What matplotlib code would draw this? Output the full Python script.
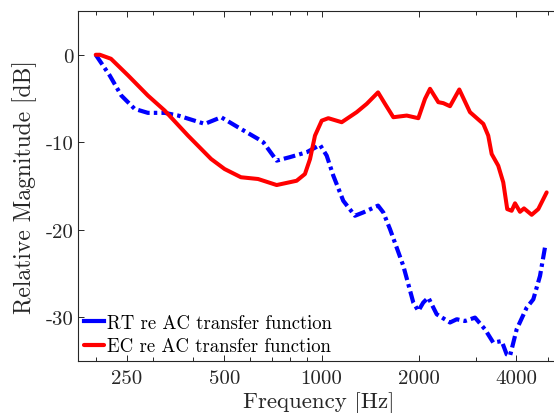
import matplotlib
matplotlib.use('Agg')
import matplotlib.pyplot as plt
from matplotlib.ticker import FixedLocator, NullFormatter

# values (Hz, dB)
rt_freq = [200, 221, 240, 264, 290, 327, 360, 435, 489, 551, 636, 660, 726, 798, 899,
           989, 1037, 1087, 1167, 1268, 1346, 1495, 1552, 1628, 1790, 1922, 1992, 2063,
           2139, 2271, 2496, 2619, 2778, 2983, 3203, 3398, 3608, 3738, 3827, 4014, 4311,
           4519, 4740, 4911]
rt_db = [0.0, -2.37, -4.66, -6.19, -6.64, -6.64, -6.95, -7.90, -7.14, -8.28, -9.62,
         -10.0, -12.1, -11.7, -11.14, -10.31, -11.53, -13.82, -16.69, -18.40, -18.02,
         -17.24, -18.02, -19.93, -24.13, -28.32, -29.28, -28.32, -27.75, -29.66, -30.6,
         -30.23, -30.43, -30.04, -31.38, -32.9, -32.72, -34.24, -34.43, -31.38, -28.9,
         -27.95, -25.28, -22.02]

ec_freq = [200, 206, 223, 252, 290, 327, 386, 455, 501, 563, 636, 726, 837, 888, 921,
           954, 1001, 1049, 1154, 1284, 1379, 1495, 1571, 1667, 1834, 1992, 2089, 2165,
           2297, 2380, 2496, 2667, 2878, 3165, 3278, 3359, 3520, 3648, 3753, 3873, 3967,
           4110, 4229, 4467, 4682, 4970]
ec_db = [0.0, 0.0, -0.46, -2.37, -4.66, -6.38, -9.24, -11.91, -13.06, -14.0, -14.2,
         -14.89, -14.4, -13.63, -11.91, -9.24, -7.53, -7.25, -7.71, -6.56, -5.61, -4.30,
         -5.61, -7.14, -6.95, -7.25, -5.04, -3.89, -5.42, -5.53, -5.88, -3.97, -6.56,
         -7.90, -9.24, -11.34, -12.68, -14.58, -17.64, -17.83, -16.98, -17.95, -17.56,
         -18.29, -17.64, -15.73]

x_major = [250, 500, 1000, 2000, 4000]
x_minor = [200, 300, 400, 600, 700, 800, 900, 3000, 5000]
y_ticks = [-30, -20, -10, 0]

plt.rcParams['font.family'] = 'serif'
plt.rcParams['font.serif'] = ['cmr10']
plt.rcParams['axes.unicode_minus'] = False
plt.rcParams['axes.formatter.use_mathtext'] = True
plt.rcParams['lines.scale_dashes'] = False

fig = plt.figure(figsize=(5.54, 4.14), dpi=100)
ax = fig.add_axes([0.1408, 0.1256, 0.870, 0.8454])

ax.plot(rt_freq, rt_db, color=(0, 0, 1), lw=3, dashes=(8.5, 3, 2.5, 3),
        dash_capstyle='butt', dash_joinstyle='round', label='RT re AC transfer function')
ax.plot(ec_freq, ec_db, color=(1, 0, 0), lw=2.9, solid_capstyle='round',
        solid_joinstyle='round', label='EC re AC transfer function')

ax.set_xscale('log')
ax.set_xlim(176.3, 5465)
ax.set_ylim(-35, 5)
ax.xaxis.set_major_locator(FixedLocator(x_major))
ax.xaxis.set_minor_locator(FixedLocator(x_minor))
ax.xaxis.set_minor_formatter(NullFormatter())
ax.set_xticklabels([str(v) for v in x_major])
ax.set_yticks(y_ticks)
ax.set_yticklabels([str(v) for v in y_ticks])

dark = (0.15, 0.15, 0.15)
for s in ['left', 'bottom', 'top']:
    ax.spines[s].set_color(dark)
    ax.spines[s].set_linewidth(0.8)
ax.spines['right'].set_visible(False)
ax.tick_params(which='both', direction='in', top=True, right=False, colors=dark,
               labelsize=15, width=0.7)
ax.tick_params(which='major', length=4)
ax.tick_params(which='minor', length=3)
ax.tick_params(axis='x', pad=6)

ax.set_xlabel('Frequency [Hz]', fontsize=16.5, color=dark, labelpad=3)
ax.set_ylabel('Relative Magnitude [dB]', fontsize=17, color=dark, labelpad=6)

leg = ax.legend(loc='lower left', frameon=False, fontsize=13.5, handlelength=1.1,
                handletextpad=0.15, borderaxespad=0.1, labelspacing=0.3,
                borderpad=0.2)
for h in leg.get_lines():
    h.set_linestyle('-')
    h.set_linewidth(3)

fig.savefig('out.png', dpi=100)
